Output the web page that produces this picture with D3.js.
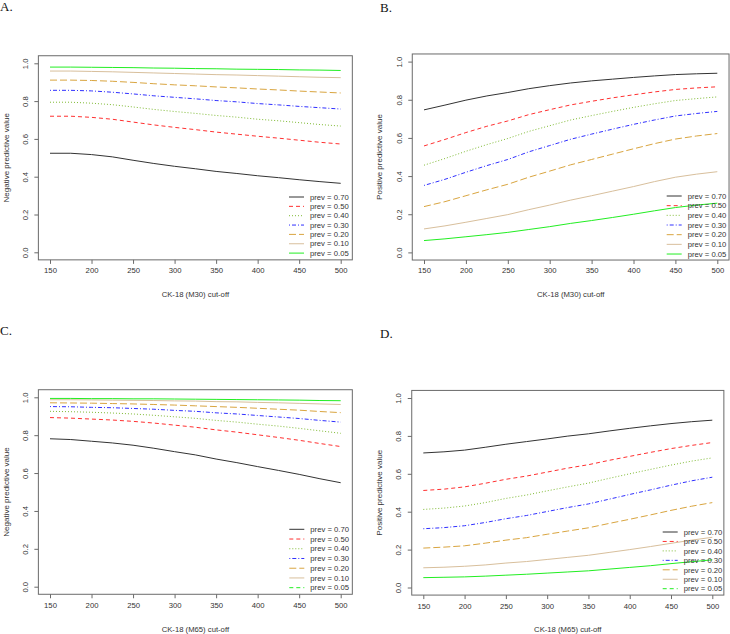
<!DOCTYPE html>
<html><head><meta charset="utf-8">
<script src="https://cdn.jsdelivr.net/npm/d3@7"></script>
<style>body{margin:0;background:#fff}svg{display:block}</style>
</head><body>
<svg id="chart" width="730" height="634"></svg>
<script>
// ---- data ----
const cutoffs = [150,175,200,225,250,275,300,325,350,375,400,425,450,475,500];
const prevLabels = ["prev = 0.70","prev = 0.50","prev = 0.40","prev = 0.30","prev = 0.20","prev = 0.10","prev = 0.05"];
const xTicks = [150,200,250,300,350,400,450,500];
const yTicks = [0,0.2,0.4,0.6,0.8,1.0];

const npvM30 = [
  [.524,.524,.517,.505,.487,.470,.455,.442,.428,.417,.405,.395,.384,.374,.365],
  [.720,.720,.714,.704,.689,.674,.661,.649,.636,.625,.614,.604,.593,.582,.573],
  [.794,.794,.789,.781,.769,.756,.745,.735,.724,.715,.704,.696,.686,.676,.668],
  [.857,.857,.854,.847,.838,.828,.820,.812,.803,.796,.787,.780,.772,.765,.758],
  [.911,.911,.909,.905,.899,.892,.886,.881,.875,.870,.864,.859,.853,.848,.843],
  [.959,.959,.957,.955,.952,.949,.946,.943,.940,.938,.935,.932,.929,.926,.924],
  [.980,.980,.979,.978,.977,.975,.974,.972,.971,.969,.968,.967,.965,.964,.962]
];
const ppvM30 = [
  [.747,.772,.798,.820,.838,.858,.874,.888,.899,.908,.917,.925,.932,.936,.939],
  [.558,.592,.628,.661,.689,.722,.748,.773,.792,.810,.826,.841,.854,.862,.868],
  [.457,.492,.530,.565,.597,.634,.664,.694,.717,.739,.760,.779,.796,.806,.815],
  [.351,.383,.420,.455,.487,.527,.560,.593,.620,.646,.671,.694,.715,.728,.739],
  [.240,.266,.297,.328,.357,.394,.426,.459,.487,.515,.543,.570,.594,.610,.623],
  [.123,.139,.158,.178,.198,.224,.248,.274,.297,.321,.345,.371,.394,.410,.423],
  [.062,.071,.082,.093,.105,.120,.135,.152,.167,.183,.200,.218,.235,.248,.258]
];
const npvM65 = [
  [.781,.777,.768,.759,.747,.731,.713,.696,.674,.655,.634,.614,.593,.570,.549],
  [.893,.890,.885,.880,.873,.864,.853,.842,.828,.816,.802,.788,.773,.756,.740],
  [.926,.924,.921,.917,.912,.905,.897,.889,.878,.869,.858,.848,.836,.823,.810],
  [.951,.950,.947,.945,.941,.937,.931,.926,.918,.912,.904,.896,.888,.878,.869],
  [.971,.970,.969,.967,.965,.962,.959,.955,.951,.947,.942,.937,.932,.925,.919],
  [.987,.987,.986,.985,.984,.983,.981,.980,.977,.976,.973,.971,.968,.965,.962],
  [.994,.994,.993,.993,.992,.992,.991,.990,.989,.988,.987,.986,.985,.983,.982]
];
const ppvM65 = [
  [.710,.716,.725,.740,.756,.770,.784,.799,.811,.826,.840,.853,.865,.875,.883],
  [.512,.519,.531,.550,.571,.588,.609,.630,.648,.671,.692,.713,.733,.750,.765],
  [.412,.419,.430,.448,.470,.488,.510,.531,.551,.576,.600,.623,.646,.667,.684],
  [.310,.316,.326,.343,.363,.380,.401,.422,.441,.466,.491,.515,.540,.563,.582],
  [.208,.213,.220,.234,.250,.263,.281,.298,.315,.338,.360,.383,.407,.429,.448],
  [.104,.107,.112,.119,.129,.137,.148,.159,.170,.185,.200,.216,.233,.250,.265],
  [.052,.054,.056,.060,.065,.070,.076,.082,.088,.097,.106,.115,.126,.136,.146]
];

// ---- styles ----
const colors = ["#333333","#ff3030","#80bb35","#3030ff","#d9a540","#d8bf9c","#22ee22"];
const dashesAB = [null,"4,3","1,2","1,2,4,2","7,3",null,null];
const legendDashesCD = [null,"4,3","1,2","1,2,4,2","7,3",null,"4,3"];

const panels = [
  {label:"A.", lx:0, ly:11, data:npvM30, ytitle:"Negative predictive value", xtitle:"CK-18 (M30) cut-off",
   x150:50, x500:340.7, y0:252.3, y1:63.3, legX:289, legY:197, legDy:9.35, ld:dashesAB},
  {label:"B.", lx:380, ly:12, data:ppvM30, ytitle:"Positive predictive value", xtitle:"CK-18 (M30) cut-off",
   x150:424, x500:717.3, y0:252.4, y1:61.6, legX:666.7, legY:196, legDy:9.67, ld:dashesAB},
  {label:"C.", lx:0, ly:335, data:npvM65, ytitle:"Negative predictive value", xtitle:"CK-18 (M65) cut-off",
   x150:50, x500:340.7, y0:586.7, y1:397.3, legX:289.3, legY:529.3, legDy:9.73, ld:legendDashesCD},
  {label:"D.", lx:380, ly:338, data:ppvM65, ytitle:"Positive predictive value", xtitle:"CK-18 (M65) cut-off",
   x150:423.3, x500:712.3, y0:587.5, y1:398, legX:662.7, legY:532, legDy:9.45, ld:legendDashesCD}
];

const svg = d3.select("#chart");
const sans = "'Liberation Sans', Arial, sans-serif";
const fs = 7.7;

panels.forEach(p => {
  const x = d3.scaleLinear().domain([150,500]).range([p.x150,p.x500]);
  const y = d3.scaleLinear().domain([0,1]).range([p.y0,p.y1]);
  const left = x(136), right = x(514), top = y(1.04), bottom = y(-0.04);
  const g = svg.append("g");

  g.append("text").attr("x",p.lx).attr("y",p.ly)
    .attr("font-family","'Liberation Serif','Times New Roman',serif").attr("font-size",13)
    .attr("fill","#111").text(p.label);

  // lines
  const line = d3.line().x((d,i)=>x(cutoffs[i])).y(d=>y(d));
  p.data.forEach((s,k) => {
    g.append("path").attr("d",line(s)).attr("fill","none")
      .attr("stroke",colors[k]).attr("stroke-width",1)
      .attr("stroke-dasharray",dashesAB[k]);
  });

  // box
  g.append("rect").attr("x",left).attr("y",top).attr("width",right-left).attr("height",bottom-top)
    .attr("fill","none").attr("stroke","#6a6a6a").attr("stroke-width",1);

  // x axis
  const xa = g.append("g").attr("transform",`translate(0,${bottom})`)
    .call(d3.axisBottom(x).tickValues(xTicks).tickSize(4).tickPadding(4).tickFormat(d3.format("d")));
  xa.select(".domain").remove();
  xa.selectAll("line").attr("stroke","#6a6a6a");
  xa.selectAll("text").attr("font-family",sans).attr("font-size",fs).attr("fill","#333");

  // y axis
  const ya = g.append("g").attr("transform",`translate(${left},0)`)
    .call(d3.axisLeft(y).tickValues(yTicks).tickSize(4).tickFormat(d3.format(".1f")));
  ya.select(".domain").remove();
  ya.selectAll("line").attr("stroke","#6a6a6a");
  ya.selectAll("text")
    .attr("font-family",sans).attr("font-size",fs).attr("fill","#333")
    .attr("x",null).attr("dy",null).attr("text-anchor","middle")
    .attr("transform","translate(-10.5,0) rotate(-90)");

  // titles
  g.append("text").attr("x",(left+right)/2).attr("y",bottom+37.3)
    .attr("text-anchor","middle").attr("font-family",sans).attr("font-size",fs).attr("fill","#333")
    .text(p.xtitle);
  g.append("text").attr("transform",`translate(${left-29.8},${(top+bottom)/2}) rotate(-90)`)
    .attr("text-anchor","middle").attr("font-family",sans).attr("font-size",fs+0.3).attr("fill","#333")
    .text(p.ytitle);

  // legend
  prevLabels.forEach((lab,k) => {
    const ly = p.legY + k*p.legDy;
    g.append("line").attr("x1",p.legX).attr("x2",p.legX+15).attr("y1",ly).attr("y2",ly)
      .attr("stroke",colors[k]).attr("stroke-width",1).attr("stroke-dasharray",p.ld[k]);
    g.append("text").attr("x",p.legX+21).attr("y",ly+2.7)
      .attr("font-family",sans).attr("font-size",fs).attr("fill","#333").text(lab);
  });
});
</script>
</body></html>
